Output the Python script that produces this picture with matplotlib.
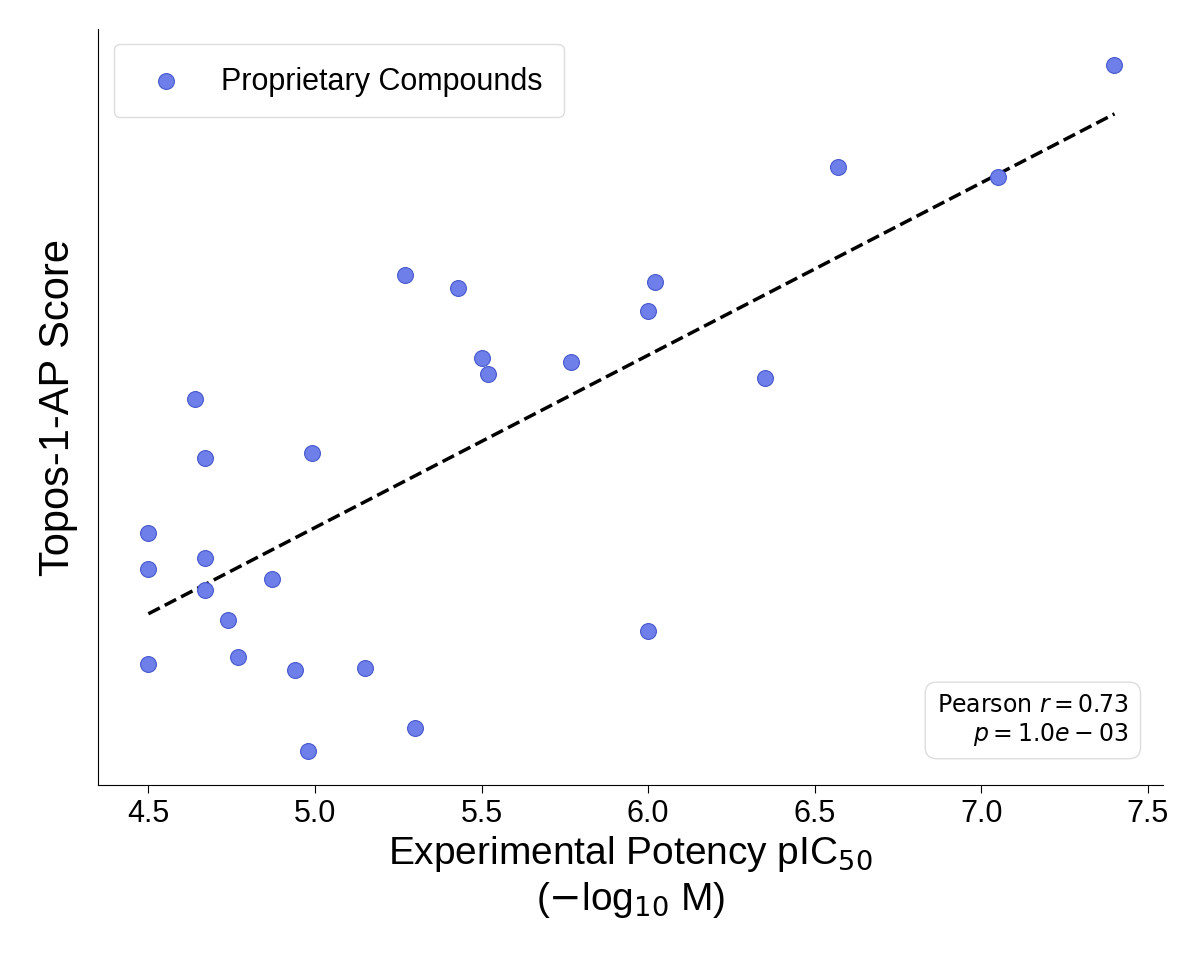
import numpy as np
import matplotlib.pyplot as plt

plt.rcParams['font.family'] = ['Liberation Sans', 'DejaVu Sans']

# experimental potency (pIC50) and model score (arbitrary units)
potency = [7.40, 6.57, 7.05, 5.27, 5.43, 6.02, 6.00, 5.50, 5.52, 5.77, 6.35,
           4.64, 4.67, 4.99, 4.50, 4.50, 4.67, 4.67, 4.87, 4.74, 6.00, 4.50,
           4.77, 4.94, 5.15, 5.30, 4.98]
score = [7.34, 6.32, 6.22, 5.24, 5.11, 5.17, 4.88, 4.41, 4.25, 4.37, 4.21,
         4.00, 3.41, 3.46, 2.66, 2.30, 2.41, 2.09, 2.20, 1.79, 1.68, 1.35,
         1.42, 1.29, 1.31, 0.71, 0.48]

fig = plt.figure(figsize=(12, 9.7), dpi=100)
ax = fig.add_axes([0.082, 0.19, 0.887, 0.779])

ax.scatter(potency, score, s=130, color='#6f7fea', edgecolor='#4558cc',
           linewidth=0.8, zorder=3, label='Proprietary Compounds')

slope, icpt = np.polyfit(potency, score, 1)
xs = np.array([min(potency), max(potency)])
ax.plot(xs, slope * xs + icpt, '--', color='black', linewidth=2.5, zorder=2)

ax.set_xlim(4.35, 7.545)
ax.set_ylim(0.14, 7.7)
ax.set_yticks([])
ax.set_xticks([4.5, 5.0, 5.5, 6.0, 6.5, 7.0, 7.5])
ax.tick_params(axis='x', labelsize=22, length=6)
ax.spines['top'].set_visible(False)
ax.spines['right'].set_visible(False)

ax.set_xlabel('Experimental Potency pIC$_{50}$\n($-$log$_{10}$ M)', fontsize=28)
ax.set_ylabel('Topos-1-AP Score', fontsize=30, labelpad=15)

ax.legend(loc='upper left', fontsize=22, borderpad=0.7, handletextpad=0.8,
          framealpha=1, edgecolor='#dddddd')

ax.text(0.968, 0.05, 'Pearson $r = 0.73$\n$p = 1.0e-03$', transform=ax.transAxes,
        ha='right', va='bottom', fontsize=17, family='DejaVu Sans',
        multialignment='right',
        bbox=dict(boxstyle='round,pad=0.5', facecolor='white', edgecolor='#dddddd'))

fig.savefig('out.png')
